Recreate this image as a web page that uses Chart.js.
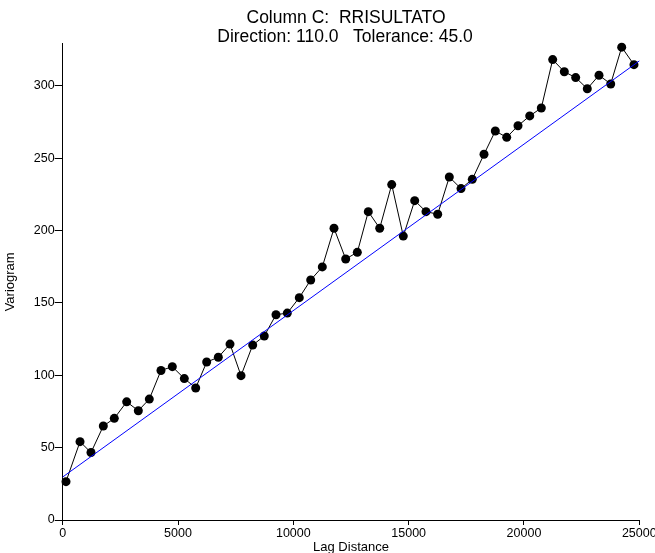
<!DOCTYPE html>
<html>
<head>
<meta charset="utf-8">
<style>
  html, body { margin: 0; padding: 0; background: #fff; }
  #wrap { width: 655px; height: 553px; }
</style>
<script src="https://cdn.jsdelivr.net/npm/chart.js"></script>
</head>
<body>
<div id="wrap"><canvas id="chart" width="655" height="553"></canvas></div>
<script>
    // experimental variogram (lag distance / value)
    const lagDistance = [143, 751, 1227, 1761, 2237, 2774, 3279, 3755, 4262, 4753,
        5273, 5767, 6243, 6747, 7254, 7731, 8238, 8740, 9248, 9738,
        10258, 10753, 11256, 11763, 12270, 12774, 13250, 13745, 14265, 14767,
        15262, 15752, 16259, 16762, 17270, 17759, 18267, 18757, 19251, 19741,
        20249, 20751, 21245, 21749, 22242, 22745, 23253, 23760, 24237, 24769];
    const variogram = [26.5, 54.1, 46.6, 64.9, 70.2, 81.6, 75.5, 83.5, 103.3, 105.9,
        97.7, 91.2, 109.1, 112.4, 121.5, 99.7, 120.8, 127.1, 141.8, 142.9,
        153.6, 165.8, 174.8, 201.5, 180.3, 184.9, 213.0, 201.5, 231.7, 196.1,
        220.6, 213.0, 211.2, 236.9, 228.9, 235.3, 252.6, 268.7, 264.3, 272.3,
        279.1, 284.6, 318.0, 309.6, 305.6, 297.9, 307.2, 301.2, 326.6, 314.5];

    // fitted model line (linear)
    const modelX = [0, 25000];
    const modelY = [29.7, 317.1];

    const xTicks = [0, 5000, 10000, 15000, 20000, 25000];
    const yTicks = [0, 50, 100, 150, 200, 250, 300];

    const titleLines = ['Column C:  RRISULTATO', 'Direction: 110.0   Tolerance: 45.0'];

    const FONT = 'Arial, "Liberation Sans", sans-serif';

    // ▼ 제목 그리기
    const titlePlugin = {
        id: 'titleText',
        afterDraw(chart) {
            const ctx = chart.ctx;
            ctx.save();
            ctx.fillStyle = '#000';
            ctx.font = '17.5px ' + FONT;
            ctx.textAlign = 'center';
            ctx.textBaseline = 'alphabetic';
            ctx.fillText(titleLines[0], 346, 23);
            ctx.fillText(titleLines[1], 345, 41.5);
            ctx.restore();
        }
    };

    const points = lagDistance.map((x, i) => ({ x, y: variogram[i] }));
    const model = modelX.map((x, i) => ({ x, y: modelY[i] }));

    new Chart(document.getElementById('chart'), {
        type: 'scatter',
        data: {
            datasets: [
                {
                    data: model,
                    showLine: true,
                    borderColor: '#0000ff',
                    borderWidth: 1,
                    pointRadius: 0,
                    clip: false
                },
                {
                    data: points,
                    showLine: true,
                    borderColor: '#000',
                    borderWidth: 1,
                    backgroundColor: '#000',
                    pointBackgroundColor: '#000',
                    pointBorderColor: '#000',
                    pointRadius: 4.5,
                    pointBorderWidth: 0,
                    clip: false
                }
            ]
        },
        options: {
            responsive: false,
            animation: false,
            layout: { padding: { left: 0, right: 15.7, top: 43.7, bottom: 0 } },
            plugins: { legend: { display: false }, tooltip: { enabled: false } },
            scales: {
                x: {
                    type: 'linear',
                    min: 0,
                    max: 25000,
                    afterBuildTicks: s => { s.ticks = xTicks.map(v => ({ value: v })); },
                    afterFit: s => { s.height = 33; s.paddingLeft = 0; s.paddingRight = 0; },
                    ticks: {
                        color: '#000',
                        font: { family: FONT, size: 12.5 },
                        padding: 1,
                        maxRotation: 0,
                        callback: v => String(v)
                    },
                    grid: { drawOnChartArea: false, drawTicks: true, tickLength: 5, color: '#000' },
                    border: { color: '#000', width: 1 },
                    title: {
                        display: true,
                        text: 'Lag Distance',
                        color: '#000',
                        font: { family: FONT, size: 13 },
                        padding: { top: 0, bottom: -2 }
                    }
                },
                y: {
                    type: 'linear',
                    min: 0,
                    max: 329,
                    afterBuildTicks: s => { s.ticks = yTicks.map(v => ({ value: v })); },
                    afterFit: s => { s.width = 62.7; s.paddingTop = 0; s.paddingBottom = 0; },
                    ticks: {
                        color: '#000',
                        font: { family: FONT, size: 12.5 },
                        padding: 0,
                        callback: v => String(v)
                    },
                    grid: { drawOnChartArea: false, drawTicks: true, tickLength: 8, color: '#000' },
                    border: { color: '#000', width: 1 },
                    title: {
                        display: true,
                        text: 'Variogram',
                        color: '#000',
                        font: { family: FONT, size: 13 },
                        padding: { top: 3, bottom: 0 }
                    }
                }
            }
        },
        plugins: [titlePlugin]
    });
</script>
</body>
</html>
